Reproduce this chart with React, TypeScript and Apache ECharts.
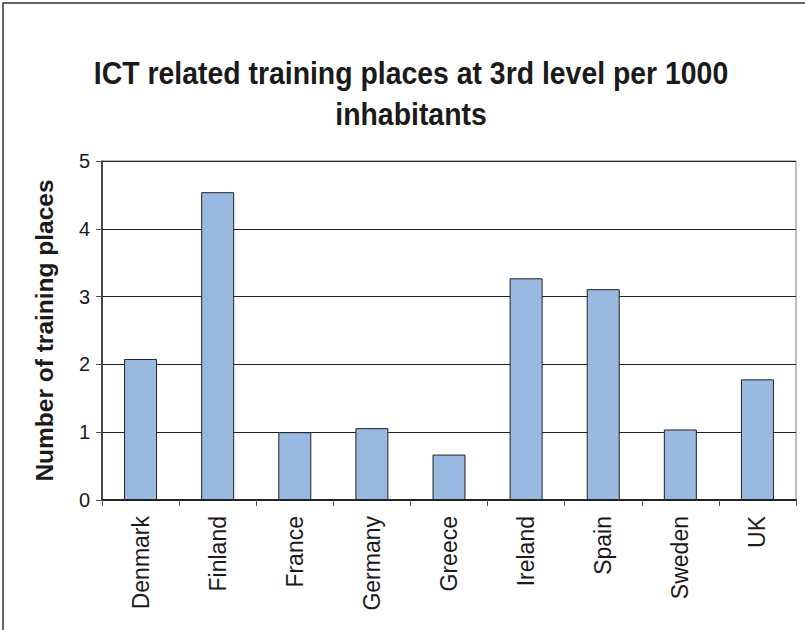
import React, { useEffect, useRef } from "react";
import * as echarts from "echarts";

const categories = ["Denmark", "Finland", "France", "Germany", "Greece", "Ireland", "Spain", "Sweden", "UK"];
const values = [2.08, 4.54, 1.0, 1.06, 0.67, 3.27, 3.11, 1.04, 1.78];
const titleLines = ["ICT related training places at 3rd level per 1000", "inhabitants"];
const yAxisTitle = "Number of training places";

const FONT = "'Liberation Sans', Arial, sans-serif";

export default function App() {
  const ref = useRef<HTMLDivElement>(null);
  useEffect(() => {
    document.body.style.margin = "0";
    const chart = echarts.init(ref.current!, null, { renderer: "svg" });
    chart.setOption({
      animation: false,
      backgroundColor: "#ffffff",
      grid: {
        left: 102,
        top: 161,
        right: 9,
        bottom: 130,
        show: true,
        borderColor: "#808080",
        borderWidth: 1,
        backgroundColor: "transparent",
      },
      graphic: [
        {
          type: "rect",
          shape: { x: 3, y: 3, width: 830, height: 650 },
          style: { fill: "none", stroke: "#333", lineWidth: 1.5 },
          silent: true,
        },
        {
          type: "text",
          x: 411,
          y: 73,
          scaleY: 1.1,
          style: {
            text: titleLines[0],
            font: `bold 28.4px ${FONT}`,
            fill: "#1a1a1a",
            textAlign: "center",
            textVerticalAlign: "middle",
          },
        },
        {
          type: "text",
          x: 411,
          y: 114,
          scaleY: 1.1,
          style: {
            text: titleLines[1],
            font: `bold 28.4px ${FONT}`,
            fill: "#1a1a1a",
            textAlign: "center",
            textVerticalAlign: "middle",
          },
        },
      ],
      xAxis: {
        type: "category",
        data: categories,
        axisLine: { show: true, lineStyle: { color: "#222", width: 2 } },
        axisTick: { show: true, length: 6, lineStyle: { color: "#555", width: 1 } },
        axisLabel: {
          rotate: 90,
          margin: 16,
          fontFamily: FONT,
          fontSize: 23,
          color: "#1a1a1a",
        },
        splitLine: { show: false },
      },
      yAxis: {
        type: "value",
        min: 0,
        max: 5,
        interval: 1,
        name: yAxisTitle,
        nameLocation: "middle",
        nameGap: 45,
        nameTextStyle: { fontFamily: FONT, fontSize: 24.5, fontWeight: "bold", color: "#1a1a1a" },
        axisLine: { show: true, lineStyle: { color: "#222", width: 1.5 } },
        axisTick: { show: true, length: 6, lineStyle: { color: "#555" } },
        axisLabel: { margin: 12, fontFamily: FONT, fontSize: 20, color: "#1a1a1a" },
        splitLine: { show: true, lineStyle: { color: "#222", width: 1 } },
      },
      series: [
        {
          type: "bar",
          data: values,
          barWidth: 33,
          itemStyle: { color: "#99B9E1", borderColor: "#222", borderWidth: 1 },
        },
      ],
    });
    return () => chart.dispose();
  }, []);
  return <div ref={ref} style={{ width: 805, height: 630 }} />;
}
